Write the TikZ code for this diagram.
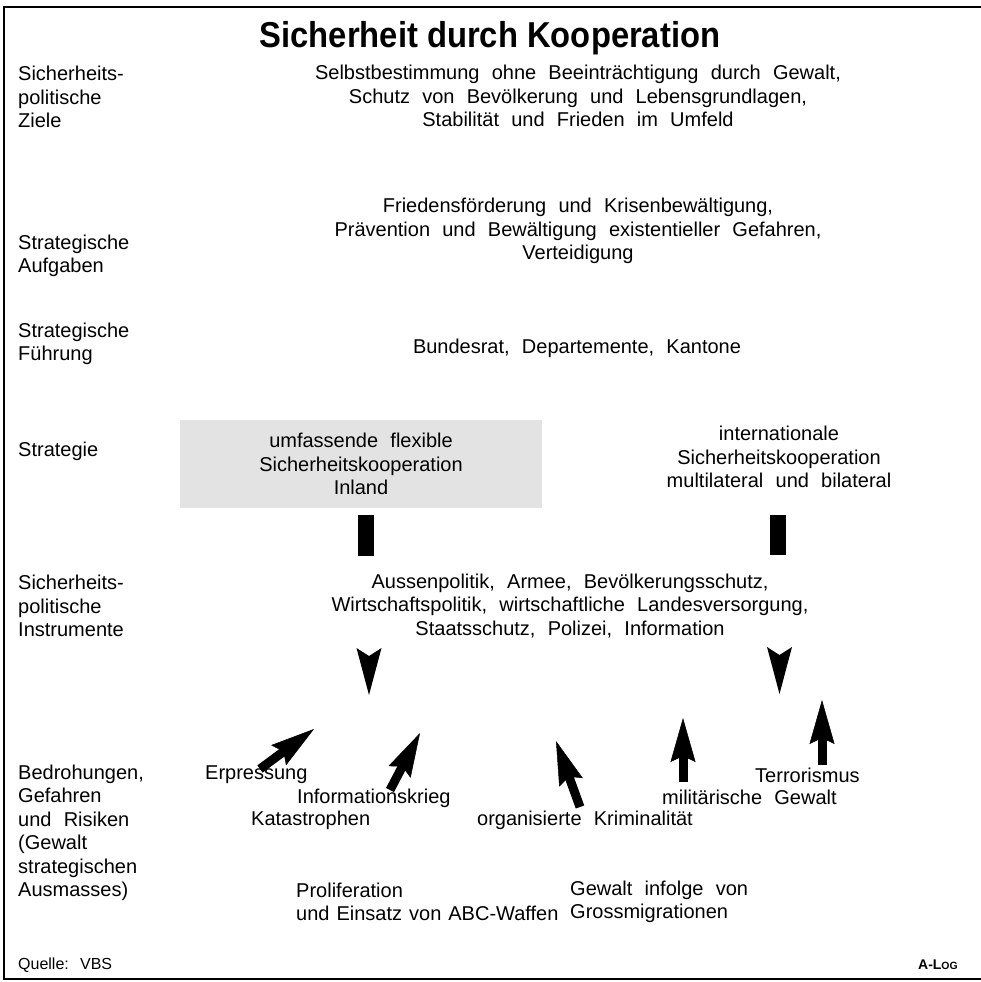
\documentclass[tikz,border=0pt]{standalone}
\usepackage{fontspec}
\setmainfont[WordSpace=2.2]{Liberation Sans}
\newfontfamily\titlefont{Liberation Sans}
\usetikzlibrary{arrows.meta, positioning}
\newcommand{\bodysize}{\fontsize{20}{23.5}\selectfont}
\newcommand{\tightspace}{\fontsize{20}{23.5}\selectfont\spaceskip=7pt\relax}
\tikzset{
  rowname/.style={anchor=west, align=left, inner sep=0pt, font=\bodysize},
  body/.style={align=center, inner sep=0pt, font=\bodysize},
  threat/.style={inner sep=0pt, font=\bodysize},
  inlandbox/.style={fill=gray!22, minimum width=362pt, minimum height=88pt,
    align=center, inner sep=0pt, font=\bodysize},
  bar/.style={line width=16pt},
  threatarrow/.style={line width=9pt,
    -{Stealth[length=44pt, width=25pt, inset=6pt, line width=0.5pt]}},
  downhead/.pic={\fill (-12.5,0) -- (0,8) -- (12.5,0) -- (0,47) -- cycle;}
}
\begin{document}
\begin{tikzpicture}[x=1pt, y=-1pt]
  \useasboundingbox (0,0) rectangle (981,982);
  % frame
  \draw[line width=2pt] (981,7) -- (4,7) -- (4,979) -- (981,979);

  \node[inner sep=0pt, anchor=base, font=\titlefont\bfseries\fontsize{36}{36}\selectfont]
    (title) at (490,48) {\scalebox{0.91}[1]{Sicherheit durch Kooperation}};

  % row names
  \node[rowname] (zielname) at (18,97) {Sicherheits-\\politische\\Ziele};
  \node[rowname] (aufgname) at (18,256) {Strategische\\Aufgaben};
  \node[rowname] (fuehrname) at (18,344) {Strategische\\Führung};
  \node[rowname] (stratname) at (18,451) {Strategie};
  \node[rowname] (instrname) at (18,606) {Sicherheits-\\politische\\Instrumente};
  \node[rowname] (bedrname) at (18,833) {Bedrohungen,\\Gefahren\\und Risiken\\(Gewalt\\strategischen\\Ausmasses)};

  % contents
  \node[body] (ziele) at (578,96) {Selbstbestimmung ohne Beeinträchtigung durch Gewalt,\\Schutz von Bevölkerung und Lebensgrundlagen,\\Stabilität und Frieden im Umfeld};
  \node[body] (aufgaben) at (578,231) {Friedensförderung und Krisenbewältigung,\\Prävention und Bewältigung existentieller Gefahren,\\Verteidigung};
  \node[body] (fuehrung) at (577,348) {Bundesrat, Departemente, Kantone};
  \node[inlandbox] (inland) at (361,464) {umfassende flexible\\Sicherheitskooperation\\Inland};
  \node[body] (intl) at (779,457) {internationale\\Sicherheitskooperation\\multilateral und bilateral};
  \node[body] (instr) at (570,606) {Aussenpolitik, Armee, Bevölkerungsschutz,\\Wirtschaftspolitik, wirtschaftliche Landesversorgung,\\Staatsschutz, Polizei, Information};

  % strategy arrows, split by the instruments
  \coordinate (inlandbar) at (366,515);
  \coordinate (intlbar) at (777.5,515);
  \draw[bar] (inlandbar) -- ++(0,41);
  \draw[bar] (intlbar) -- ++(0,40);
  \pic at (369,648) {downhead};
  \pic at (779.5,647) {downhead};

  % threats
  \node[threat, anchor=west] (erpressung) at (205,775) {Erpressung};
  \node[threat, anchor=west] (infokrieg) at (297,798) {Informationskrieg};
  \node[threat, anchor=west] (katastrophen) at (251,820) {Katastrophen};
  \node[threat, anchor=east] (krimi) at (693,820) {organisierte Kriminalität};
  \node[threat, anchor=west] (militaer) at (662,797) {militärische Gewalt};
  \node[threat, anchor=west] (terror) at (755,775) {Terrorismus};
  \node[rowname, font=\tightspace] (prolif) at (296,902) {Proliferation\\und Einsatz von ABC-Waffen};
  \node[rowname] (migration) at (570,902) {Gewalt infolge von\\Grossmigrationen};

  \coordinate (erpT) at (260,769);     \coordinate (erpH) at (314,729);
  \coordinate (infoT) at (390,790);    \coordinate (infoH) at (420,733);
  \coordinate (krimiT) at (580,807);   \coordinate (krimiH) at (556,741);
  \coordinate (milT) at (683,782);     \coordinate (milH) at (683,718);
  \coordinate (terrorT) at (822,765);  \coordinate (terrorH) at (822,700);
  \draw[threatarrow] (erpT) -- (erpH);
  \draw[threatarrow] (infoT) -- (infoH);
  \draw[threatarrow] (krimiT) -- (krimiH);
  \draw[threatarrow] (milT) -- (milH);
  \draw[threatarrow] (terrorT) -- (terrorH);

  \node[anchor=west, inner sep=0pt, font=\fontsize{16}{16}\selectfont] (quelle) at (18,965) {Quelle: VBS};
  \node[anchor=east, inner sep=0pt, font=\bfseries\fontsize{14}{14}\selectfont] (alog) at (958,965) {A-L{\fontsize{10.5}{10}\selectfont OG}};
\end{tikzpicture}
\end{document}
